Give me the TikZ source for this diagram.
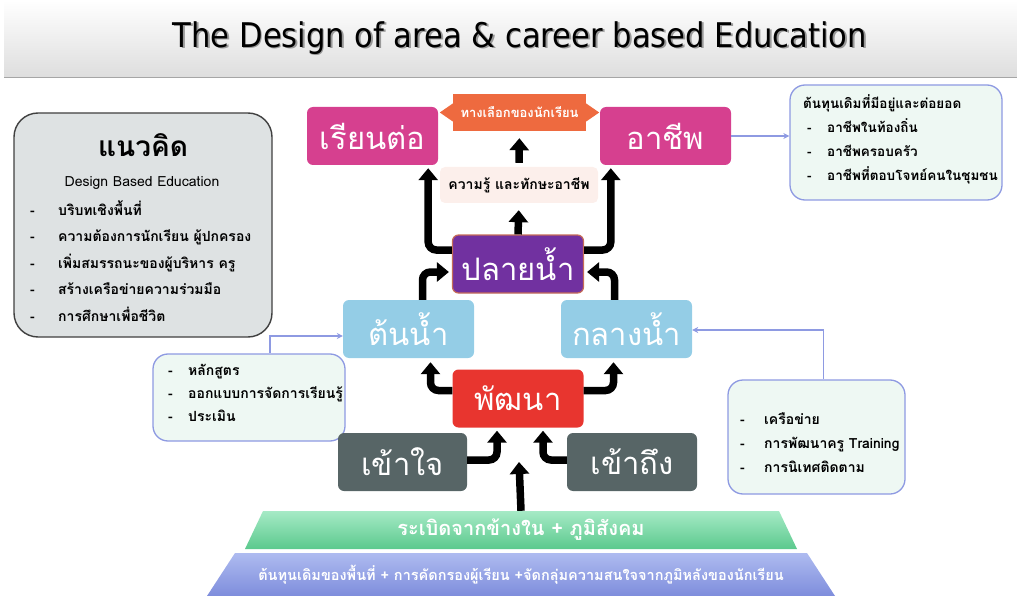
\documentclass[tikz,border=0pt]{standalone}
\usepackage{fontspec}
\setmainfont{DejaVu Sans}
\newfontfamily\thai[Script=Thai]{Loma}
\newfontfamily\titlefont{DejaVu Sans Condensed}
\usetikzlibrary{arrows.meta}

\definecolor{pinkbox}{HTML}{D6408F}
\definecolor{orangebox}{HTML}{EE6A3F}
\definecolor{blushbox}{HTML}{FCEFEB}
\definecolor{purplebox}{HTML}{7131A0}
\definecolor{skybox}{HTML}{94CDE6}
\definecolor{redbox}{HTML}{E8352F}
\definecolor{slatebox}{HTML}{576566}
\definecolor{lav}{HTML}{8E9AE2}
\definecolor{mint}{HTML}{EEF8F3}
\definecolor{fog}{HTML}{DEE2E3}
\definecolor{leaftop}{HTML}{A6EAC6}
\definecolor{leafbot}{HTML}{5BC98D}
\definecolor{skytop}{HTML}{AEBBF0}
\definecolor{skybot}{HTML}{7E8DDC}

\begin{document}
\begin{tikzpicture}[x=1pt,y=-1pt]
	\tikzset{stage/.style={rounded corners=6pt, minimum width=131pt, minimum height=58pt, inner sep=0pt,
			text=white, font=\thai\fontsize{31}{33}\selectfont}}
	\tikzset{fat/.style={line width=7.5pt, rounded corners=8pt, -{Triangle[width=19pt,length=12pt]}}}
	\tikzset{note/.style={draw=lav, line width=1.3pt, fill=mint, rounded corners=15pt, inner sep=0pt}}
	\tikzset{link/.style={draw=lav, line width=1.3pt, -{Stealth[length=6pt,width=6pt]}}}
	\tikzset{list/.style={align=left, anchor=north west, inner sep=0pt, font=\thai\bfseries\fontsize{14}{24}\selectfont}}
	\useasboundingbox (0,0) rectangle (1017,596);
	% title bar
	\shade[top color=white, bottom color=black!13] (4,0) rectangle (1017,77);
	\draw[black!35, line width=1.6pt] (4,77.5) -- (1017,77.5);
	\node[font=\titlefont\fontsize{34}{36}\selectfont, text=black!40] (titleshade) at (521.5,39.5) {The Design of area \& career based Education};
	\node[font=\titlefont\fontsize{34}{36}\selectfont] (title) at (520,38) {The Design of area \& career based Education};
	% concept box
	\node[draw=black!75, line width=1.4pt, fill=fog, rounded corners=24pt, minimum width=258pt, minimum height=224pt] (concept) at (143,225) {};
	\node[font=\thai\bfseries\fontsize{28}{30}\selectfont] (concepthead) at (143,145) {แนวคิด};
	\node[font=\thai\fontsize{14}{16}\selectfont] (conceptsub) at (142,183) {Design Based Education};
	\node[list, font=\thai\bfseries\fontsize{14}{26.5}\selectfont] (conceptlist) at (30,200) {\makebox[28pt][l]{-}บริบทเชิงพื้นที่\\
		\makebox[28pt][l]{-}ความต้องการนักเรียน ผู้ปกครอง\\
		\makebox[28pt][l]{-}เพิ่มสมรรถนะของผู้บริหาร ครู\\
		\makebox[28pt][l]{-}สร้างเครือข่ายความร่วมมือ\\
		\makebox[28pt][l]{-}การศึกษาเพื่อชีวิต};
	% notes
	\node[note, minimum width=212pt, minimum height=115pt] (capital) at (896,142.5) {};
	\node[list, font=\thai\bfseries\fontsize{13.5}{24}\selectfont] (capitallist) at (803,94) {ต้นทุนเดิมที่มีอยู่และต่อยอด\\
		\makebox[24pt][l]{\hspace{4pt}-}อาชีพในท้องถิ่น\\
		\makebox[24pt][l]{\hspace{4pt}-}อาชีพครอบครัว\\
		\makebox[24pt][l]{\hspace{4pt}-}อาชีพที่ตอบโจทย์คนในชุมชน};
	\node[note, minimum width=192pt, minimum height=87pt] (course) at (249,397.5) {};
	\node[list, font=\thai\bfseries\fontsize{14}{23}\selectfont] (courselist) at (168,364) {\makebox[20pt][l]{-}หลักสูตร\\
		\makebox[20pt][l]{-}ออกแบบการจัดการเรียนรู้\\
		\makebox[20pt][l]{-}ประเมิน};
	\node[note, minimum width=177pt, minimum height=114pt] (network) at (816.5,437) {};
	\node[list, font=\thai\bfseries\fontsize{14}{24}\selectfont] (networklist) at (740,413) {\makebox[24pt][l]{-}เครือข่าย\\
		\makebox[24pt][l]{-}การพัฒนาครู Training\\
		\makebox[24pt][l]{-}การนิเทศติดตาม};
	% stages
	\node[stage, fill=pinkbox] (study) at (372.5,136) {เรียนต่อ};
	\node[stage, fill=pinkbox] (career) at (665.5,136) {อาชีพ};
	\node[fill=orangebox, minimum width=133pt, minimum height=37pt, inner sep=0pt, text=white,
		font=\thai\bfseries\fontsize{13}{15}\selectfont] (choice) at (519.5,112.5) {ทางเลือกของนักเรียน};
	\fill[orangebox] ([yshift=9pt]choice.west) -- ++(-13,9) -- ++(13,9) -- cycle;
	\fill[orangebox] ([yshift=9pt]choice.east) -- ++(13,9) -- ++(-13,9) -- cycle;
	\node[fill=blushbox, rounded corners=5pt, minimum width=158pt, minimum height=36pt, inner sep=0pt,
		font=\thai\bfseries\fontsize{14}{16}\selectfont] (skill) at (519,185) {ความรู้ และทักษะอาชีพ};
	\node[stage, fill=purplebox, draw=brown!70!pinkbox, line width=1.2pt] (down) at (518,264) {ปลายน้ำ};
	\node[stage, fill=skybox] (up) at (408.5,329) {ต้นน้ำ};
	\node[stage, fill=skybox] (mid) at (626.5,329) {กลางน้ำ};
	\node[stage, fill=redbox] (dev) at (518,398.5) {พัฒนา};
	\node[stage, fill=slatebox, minimum width=129pt] (grasp) at (402.5,462) {เข้าใจ};
	\node[stage, fill=slatebox, minimum width=130pt] (reach) at (632,462) {เข้าถึง};
	% base layers
	\shade[top color=leaftop, bottom color=leafbot] (263,511) -- (779,511) -- (797,549) -- (245,549) -- cycle;
	\shade[top color=skytop, bottom color=skybot] (235,553) -- (807,553) -- (835,596) -- (207,596) -- cycle;
	\node[minimum height=38pt, inner sep=0pt, text=white, font=\thai\bfseries\fontsize{20}{22}\selectfont] (pride) at (521,530) {ระเบิดจากข้างใน + ภูมิสังคม};
	\node[minimum height=43pt, inner sep=0pt, text=white, font=\thai\bfseries\fontsize{14.5}{16}\selectfont] (capitalbase) at (521,574.5) {ต้นทุนเดิมของพื้นที่ + การคัดกรองผู้เรียน +จัดกลุ่มความสนใจจากภูมิหลังของนักเรียน};
	% black arrows
	\draw[fat, shorten <=4pt, shorten >=7pt] (skill.north) -- (choice.south);
	\draw[fat, shorten >=7pt] (down.north) -- (skill.south);
	\draw[fat, shorten >=3pt] ([yshift=14pt]down.west) -| ([xshift=-10pt]study.south east);
	\draw[fat, shorten >=3pt] ([yshift=14pt]down.east) -| ([xshift=11pt]career.south west);
	\draw[fat, shorten >=3pt] ([xshift=14pt]up.north) |- ([yshift=-8pt]down.west);
	\draw[fat, shorten >=3pt] ([xshift=-12pt]mid.north) |- ([yshift=-8pt]down.east);
	\draw[fat, shorten >=4pt] ([yshift=8pt]dev.west) -| ([xshift=22pt]up.south);
	\draw[fat, shorten >=4pt] ([yshift=8pt]dev.east) -| ([xshift=-13pt]mid.south);
	\draw[fat, shorten >=3pt] ([yshift=2pt]grasp.east) -| ([xshift=-21pt]dev.south);
	\draw[fat, shorten >=3pt] ([yshift=2pt]reach.west) -| ([xshift=25pt]dev.south);
	\coordinate (rise) at (519,462);
	\draw[fat] (pride.north) -- (rise);
	% note links
	\draw[link] (career.east) -- (capital.west |- career.east);
	\draw[link] ([xshift=21pt]course.north) |- (up.west |- 0,336);
	\draw[link] ([xshift=7pt]network.north) |- (mid.east |- 0,330);
\end{tikzpicture}
\end{document}
